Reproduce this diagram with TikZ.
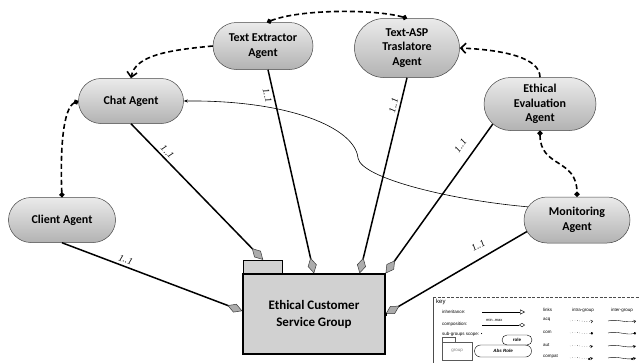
\documentclass[tikz,border=0pt]{standalone}
\usepackage{fontspec}
\setmainfont{Carlito}
\newfontfamily\cardfont{Liberation Serif}
\newfontfamily\keyfont{Liberation Sans}
\usetikzlibrary{shapes.misc,arrows.meta,calc}

\tikzset{
  agent/.style={rounded rectangle, draw=gray!55!black, line width=0.5pt,
    top color=gray!16, bottom color=gray!60, align=center, inner sep=0pt,
    font=\bfseries\fontsize{12}{14.5}\selectfont},
  member/.style={line width=1.5pt,
    -{Diamond[length=16pt,width=9pt,fill=gray!65,color=gray!45!black,line width=0.5pt]}},
  card/.style={font=\cardfont\itshape\fontsize{9.5}{10}\selectfont, inner sep=2.5pt},
  dashlink/.style={line width=1.6pt, dash pattern=on 5pt off 3pt},
  dotends/.style={{Circle[length=5pt]}-{Circle[length=5pt]}},
  barbend/.style={-{Straight Barb[length=5pt,width=10pt,line width=1.6pt]}},
  keytext/.style={font=\keyfont\fontsize{4.5}{5}\selectfont, inner sep=0pt, anchor=west},
  keypill/.style={rounded rectangle, draw, line width=0.4pt, inner sep=0pt,
    font=\keyfont\bfseries\fontsize{4.5}{5}\selectfont},
  keyline/.style={line width=0.4pt},
}

\begin{document}
\begin{tikzpicture}[x=1pt,y=-1pt]
\fill[white] (0,0) rectangle (639,362);
\useasboundingbox (0,0) rectangle (639,362);

% agents
\node[agent, minimum width=100, minimum height=47] (textex) at (263,46) {Text Extractor\\Agent};
\node[agent, minimum width=105, minimum height=59] (textasp) at (407,48) {Text-ASP\\Traslatore\\Agent};
\node[agent, minimum width=105, minimum height=45] (chat) at (131,101) {Chat Agent};
\node[agent, minimum width=107, minimum height=45] (client) at (62,220) {Client Agent};
\node[agent, minimum width=112, minimum height=53] (ethical) at (540,104) {Ethical\\Evaluation\\Agent};
\node[agent, minimum width=106, minimum height=46] (monitoring) at (577,220) {Monitoring\\Agent};

% group package
\node[draw, line width=1.2pt, fill=gray!36, minimum width=39, minimum height=13,
      anchor=south west, inner sep=0pt] (tab) at (243,274) {};
\node[draw, line width=1.2pt, fill=gray!36, minimum width=142, minimum height=80,
      inner sep=0pt, align=center, font=\bfseries\fontsize{13}{17}\selectfont]
      (group) at (314,314) {Ethical Customer\\Service Group};

% membership links
\draw[member] (client.south) -- node[card, pos=0.34, sloped, above] {1..1} ($(group.west)+(0,-3)$);
\draw[member] (chat.south) -- node[card, pos=0.24, sloped, above] {1..1} (tab.north);
\draw[member] ($(textex.south)+(5,0)$) -- node[card, pos=0.12, sloped, below] {1..1} (group.north);
\draw[member] (textasp.south) -- node[card, pos=0.15, sloped, above] {1..1} ($(group.north east)+(-26,0)$);
\draw[member] (ethical.-157) -- node[card, pos=0.2, sloped, above=7pt] {1..1} (group.north east);
\draw[member] (monitoring.-167) -- node[card, pos=0.3, sloped, above=6pt] {1..1} (group.east);
\fill (group.east) ++(-1.5,-1.5) rectangle ++(3,3);

% interaction links
\draw[dashlink, dotends] ($(textex.north)+(4,0)$) .. controls (300,9) and (375,9) .. (textasp.north);
\draw[dashlink, barbend] (textex.west) .. controls (170,50) and (135,55) .. (chat.north);
\draw[dashlink, dotends] (chat.west) .. controls (63,108) and (60,150) .. (client.north);
\draw[dashlink, barbend] (ethical.north) .. controls (540,58) and (505,50) .. (textasp.east);
\draw[dashlink, dotends] (ethical.south) .. controls (540,168) and (577,158) .. (monitoring.north);

% monitoring feedback to chat
\draw[line width=0.6pt, {Stealth[length=4pt,width=3pt]}-]
  (chat.east) .. controls (290,100) and (355,128) .. (358,158)
  .. controls (361,178) and (450,200) .. (monitoring.165);

% key
\draw[gray!60!black, line width=0.4pt] (433,365) -- (433,297);
\draw[gray!60!black, line width=0.4pt, dash pattern=on 3pt off 1.5pt] (433,297) -- (639,297);
\node[keytext, font=\keyfont\fontsize{6}{7}\selectfont] (k0) at (436,302) {key};
\node[keytext] (k1) at (442,312) {inheritance:};
\draw[keyline, -{Triangle[open,length=5pt,width=5pt]}] (482,312) -- (525,312);
\node[keytext, font=\keyfont\fontsize{4}{4.5}\selectfont] (k2) at (486,320) {min..max};
\node[keytext] (k3) at (442,324) {composition:};
\draw[keyline, -{Diamond[open,length=6pt,width=4pt]}] (482,325) -- (525,325);
\node[keytext] (k4) at (442,334) {sub-groups scope: •};
\node[keypill, minimum width=30, minimum height=10] (krole) at (517,340) {role};
\draw[keyline, gray!70!black] (442,342) rectangle (472,360);
\draw[keyline, gray!70!black] (442,342) -- (442,337) -- (455,337) -- (455,342);
\node[keytext, anchor=center, text=gray] (kgroup) at (457,351) {group};
\node[keypill, minimum width=57, minimum height=12, font=\keyfont\bfseries\itshape\fontsize{4.5}{5}\selectfont] (kabs) at (503,351) {Abs Role};

\node[keytext] (l0) at (543,310) {links};
\node[keytext, anchor=center] (l1) at (583,310) {intra-group};
\node[keytext, anchor=center] (l2) at (622,310) {inter-group};
\node[keytext] (r1) at (543,320) {acq};
\node[keytext] (r2) at (543,332) {com};
\node[keytext] (r3) at (543,345) {aut};
\node[keytext] (r4) at (543,357) {compat};

\foreach \yy/\tip in {321/{Straight Barb[length=2pt,width=3pt]}, 333/{Circle[length=2.5pt]},
                      346/{Stealth[length=3pt,width=3pt]}, 358/{Circle[length=2pt] Stealth[length=3pt,width=3pt]}} {
  \draw[keyline, dotted, -\tip] (570,\yy) .. controls (577,\yy-2) and (585,\yy+2) .. (593,\yy);
  \draw[keyline, -\tip] (608,\yy) .. controls (617,\yy-2.5) and (626,\yy+2.5) .. (636,\yy);
}
\end{tikzpicture}
\end{document}
